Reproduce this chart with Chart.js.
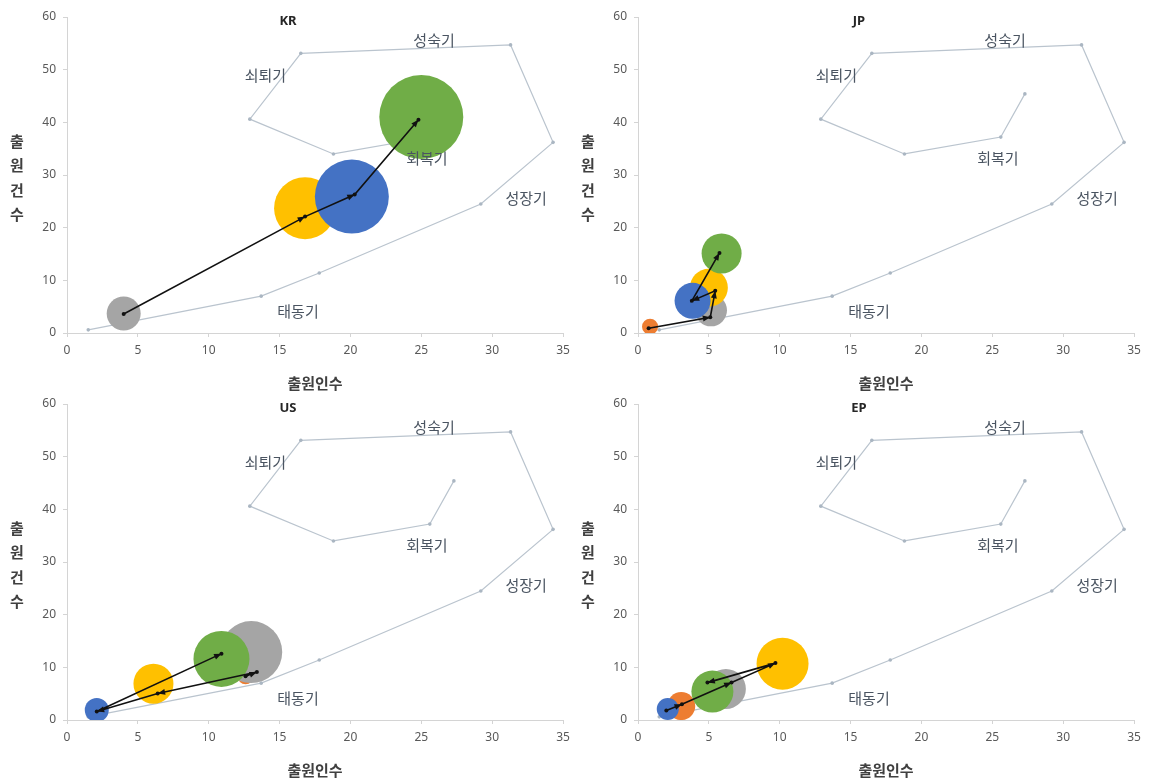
<!DOCTYPE html>
<html lang="ko">
<head>
<meta charset="utf-8">
<title>국가별 기술수명주기</title>
<script src="https://cdn.jsdelivr.net/npm/chart.js@4.4.1/dist/chart.umd.min.js"></script>
<style>
  html, body { margin: 0; padding: 0; background: #fff; }
  #wrap { position: relative; width: 1152px; height: 784px; overflow: hidden; }
  .panel { position: absolute; width: 576px; height: 392px; }
</style>
</head>
<body>
<div id="wrap">
  <div class="panel" style="left:0;top:0"><canvas id="chart-KR" width="576" height="392"></canvas></div>
  <div class="panel" style="left:571px;top:0"><canvas id="chart-JP" width="576" height="392"></canvas></div>
  <div class="panel" style="left:0;top:387px"><canvas id="chart-US" width="576" height="392"></canvas></div>
  <div class="panel" style="left:571px;top:387px"><canvas id="chart-EP" width="576" height="392"></canvas></div>
</div>
<script>
// 기술수명주기 기준 곡선 (출원인수, 출원건수)
const cycleX = [1.5, 13.7, 17.8, 29.2, 34.3, 31.3, 16.5, 12.9, 18.8, 25.6, 27.3];
const cycleY = [0.6, 7.0, 11.4, 24.5, 36.2, 54.7, 53.1, 40.6, 34.0, 37.2, 45.4];

// 단계 이름과 위치
const stageNames = ["태동기", "성장기", "성숙기", "쇠퇴기", "회복기"];
const stageX = [16.3, 32.4, 25.9, 14.0, 25.4];
const stageY = [4.2, 25.5, 55.6, 49.0, 33.2];

// 구간별 버블: 순서는 주황, 회색, 노랑, 파랑, 초록
const krX = [null, 4.0, 16.8, 20.1, 25.0];
const krY = [null, 3.7, 23.7, 25.9, 41.0];
const krR = [0, 17, 31, 37, 42];
const krPathX = [4.0, 16.8, 20.3, 24.8];
const krPathY = [3.6, 22.1, 26.3, 40.5];

const jpX = [0.85, 5.15, 5.0, 3.85, 5.9];
const jpY = [1.2, 4.3, 8.6, 6.1, 15.1];
const jpR = [8, 16, 19, 18, 20];
const jpPathX = [0.75, 5.1, 5.45, 3.8, 5.75];
const jpPathY = [0.9, 3.0, 8.0, 6.1, 15.2];

const usX = [12.6, 13.0, 6.1, 2.1, 10.9];
const usY = [8.3, 12.9, 6.9, 1.9, 11.6];
const usR = [8, 31, 20, 12, 28];
const usPathX = [12.6, 13.4, 6.4, 2.1, 10.9];
const usPathY = [8.3, 9.1, 5.05, 1.6, 12.6];

const epX = [3.05, 6.2, 10.2, 2.1, 5.25];
const epY = [2.65, 5.9, 10.7, 2.1, 5.4];
const epR = [14, 20, 26, 11, 21];
const epPathX = [2.0, 3.1, 6.6, 9.7, 4.9];
const epPathY = [1.8, 3.0, 7.1, 10.8, 7.1];

const panels = {
  KR: { x: krX, y: krY, r: krR, pathX: krPathX, pathY: krPathY },
  JP: { x: jpX, y: jpY, r: jpR, pathX: jpPathX, pathY: jpPathY },
  US: { x: usX, y: usY, r: usR, pathX: usPathX, pathY: usPathY },
  EP: { x: epX, y: epY, r: epR, pathX: epPathX, pathY: epPathY }
};

const bubbleColors = ["#ED7D31", "#A5A5A5", "#FFC000", "#4472C4", "#70AD47"];
const korFont = "'Noto Sans CJK KR', 'Noto Sans', sans-serif";

// 화살표 머리: 경로의 각 점에 그려줌
const arrowHeads = {
  id: "arrowHeads",
  afterDatasetsDraw(chart) {
    const ctx = chart.ctx;
    chart.data.datasets.forEach((ds, i) => {
      if (!ds.arrow) return;
      const pts = chart.getDatasetMeta(i).data;
      ctx.save();
      ctx.fillStyle = ds.borderColor;
      for (let k = 1; k < pts.length; k++) {
        const a = pts[k - 1], b = pts[k];
        const ang = Math.atan2(b.y - a.y, b.x - a.x);
        const len = 8;
        ctx.beginPath();
        ctx.moveTo(b.x, b.y);
        ctx.lineTo(b.x - len * Math.cos(ang - 0.38), b.y - len * Math.sin(ang - 0.38));
        ctx.lineTo(b.x - len * Math.cos(ang + 0.38), b.y - len * Math.sin(ang + 0.38));
        ctx.closePath();
        ctx.fill();
      }
      ctx.restore();
    });
  }
};

// 국가 제목, 세로 축 제목, 단계 이름
const panelText = {
  id: "panelText",
  afterDatasetsDraw(chart, args, opts) {
    const ctx = chart.ctx;
    const xs = chart.scales.x, ys = chart.scales.y;
    ctx.save();
    ctx.fillStyle = "#4A5461";
    ctx.font = "15px " + korFont;
    ctx.textAlign = "center";
    ctx.textBaseline = "middle";
    stageNames.forEach((name, i) => {
      ctx.fillText(name, xs.getPixelForValue(stageX[i]), ys.getPixelForValue(stageY[i]));
    });
    ctx.restore();
  },
  afterDraw(chart, args, opts) {
    const ctx = chart.ctx;
    ctx.save();
    ctx.fillStyle = "#262626";
    ctx.textAlign = "center";
    ctx.textBaseline = "middle";
    ctx.font = "bold 13px 'Noto Sans', sans-serif";
    ctx.fillText(opts.title, chart.width / 2, 21);
    ctx.fillStyle = "#404040";
    ctx.font = "bold 15px " + korFont;
    ["출", "원", "건", "수"].forEach((ch, i) => {
      ctx.fillText(ch, 17, 141 + i * 24.5);
    });
    ctx.restore();
  }
};

function buildChart(code) {
  const d = panels[code];
  const datasets = [];

  datasets.push({
    type: "line",
    data: d.pathX.map((x, i) => ({ x: x, y: d.pathY[i] })),
    borderColor: "#111111",
    borderWidth: 1.6,
    pointRadius: 2,
    pointBackgroundColor: "#111111",
    pointBorderWidth: 0,
    tension: 0,
    arrow: true,
    order: 0
  });

  d.x.forEach((x, i) => {
    if (x === null) return;
    datasets.push({
      type: "bubble",
      data: [{ x: x, y: d.y[i], r: d.r[i] }],
      backgroundColor: bubbleColors[i],
      borderColor: bubbleColors[i],
      borderWidth: 0,
      order: 5 - i
    });
  });

  datasets.push({
    type: "line",
    data: cycleX.map((x, i) => ({ x: x, y: cycleY[i] })),
    borderColor: "#BAC4CE",
    borderWidth: 1.2,
    pointRadius: 1.8,
    pointBackgroundColor: "#AAB6C2",
    pointBorderWidth: 0,
    tension: 0,
    order: 10
  });

  const tickFont = { family: "'Noto Sans', sans-serif", size: 12 };
  new Chart(document.getElementById("chart-" + code), {
    type: "bubble",
    data: { datasets: datasets },
    plugins: [panelText, arrowHeads],
    options: {
      responsive: false,
      animation: false,
      events: [],
      layout: { autoPadding: false, padding: { left: 27, right: 13, top: 17, bottom: 0 } },
      plugins: {
        legend: { display: false },
        tooltip: { enabled: false },
        panelText: { title: code }
      },
      scales: {
        x: {
          type: "linear",
          min: 0,
          max: 35,
          ticks: { stepSize: 5, color: "#595959", font: tickFont, padding: 6 },
          grid: { drawOnChartArea: false, drawTicks: true, tickLength: 4, color: "#D4D4D4" },
          border: { color: "#D4D4D4" },
          title: {
            display: true,
            text: "출원인수",
            color: "#404040",
            font: { family: korFont, size: 15, weight: "bold" },
            padding: 0
          },
          afterFit(scale) { scale.height = 59; }
        },
        y: {
          type: "linear",
          min: 0,
          max: 60,
          ticks: { stepSize: 10, color: "#595959", font: tickFont, padding: 7 },
          grid: { drawOnChartArea: false, drawTicks: true, tickLength: 4, color: "#D4D4D4" },
          border: { color: "#D4D4D4" },
          afterFit(scale) { scale.width = 40; }
        }
      }
    }
  });
}

["KR", "JP", "US", "EP"].forEach(buildChart);
</script>
</body>
</html>
